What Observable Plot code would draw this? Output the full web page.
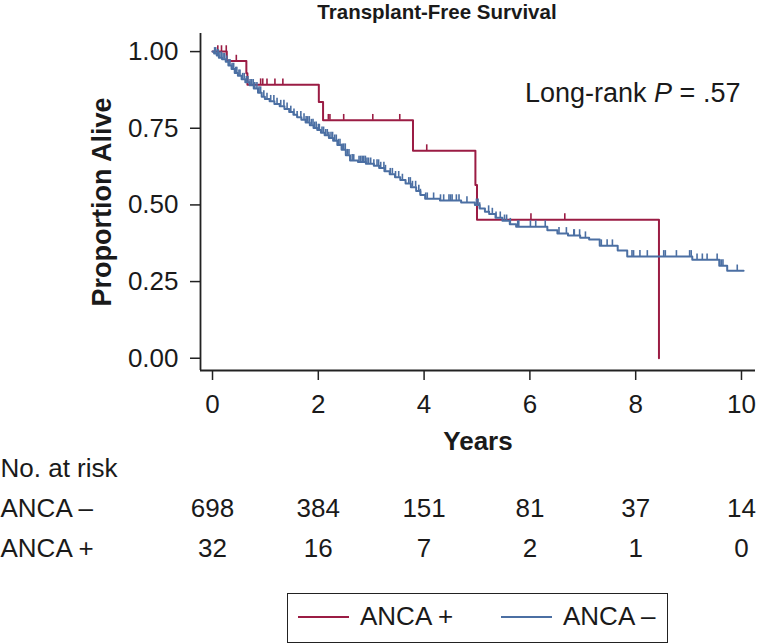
<!DOCTYPE html>
<html><head><meta charset="utf-8">
<script src="https://cdn.jsdelivr.net/npm/d3@7"></script>
<script src="https://cdn.jsdelivr.net/npm/@observablehq/plot@0.6"></script>
<style>
body{margin:0;background:#fff;font-family:"Liberation Sans",Arial,sans-serif;color:#1a1a1a}
#wrap{position:relative;width:759px;height:643px;overflow:hidden;background:#fff}
.abs{position:absolute;white-space:nowrap}
#wrap svg{position:absolute;left:0}
</style></head><body><div id="wrap"></div>
<script>
const title = "Transplant-Free Survival";
const yLabel = "Proportion Alive";
const xLabel = "Years";
const xTicks = [0, 2, 4, 6, 8, 10];
const yTicks = [0, 0.25, 0.5, 0.75, 1];
const groups = ["ANCA +", "ANCA –"];
const colors = ["#9b1c44", "#4b6fa3"];

// ANCA + : step times and survival after each step
const posTimes = [0, 0.27, 0.64, 0.66, 2.01, 2.09, 3.79, 4.97, 5.00, 8.44];
const posSurv  = [1, 0.969, 0.929, 0.892, 0.836, 0.776, 0.677, 0.565, 0.452, 0];
const posCensor = [0.10, 0.17, 0.26, 0.45, 0.91, 0.95, 1.03, 1.18, 1.33, 2.19, 2.22, 2.48, 3.03, 3.54, 4.05, 6.02, 6.66];

// ANCA – : step times and survival after each step
const negTimes = [0, 0.03, 0.08, 0.12, 0.18, 0.25, 0.30, 0.36, 0.42, 0.48, 0.55, 0.62, 0.70, 0.78, 0.86, 0.93, 0.99, 1.08, 1.17, 1.27, 1.36, 1.45, 1.53, 1.60, 1.68, 1.76, 1.84, 1.91, 1.98, 2.05, 2.12, 2.20, 2.28, 2.36, 2.44, 2.52, 2.60, 2.75, 2.90, 3.05, 3.15, 3.25, 3.35, 3.45, 3.55, 3.65, 3.75, 3.85, 3.93, 4.02, 4.30, 4.70, 4.96, 5.05, 5.15, 5.23, 5.35, 5.48, 5.62, 5.74, 6.33, 6.52, 6.72, 6.95, 7.12, 7.32, 7.66, 7.84, 9.07, 9.58, 9.73, 10.04];
const negSurv  = [1, 0.994, 0.987, 0.980, 0.975, 0.967, 0.955, 0.943, 0.930, 0.921, 0.910, 0.900, 0.890, 0.880, 0.866, 0.853, 0.845, 0.838, 0.829, 0.822, 0.813, 0.803, 0.794, 0.786, 0.778, 0.769, 0.760, 0.751, 0.744, 0.735, 0.727, 0.718, 0.709, 0.695, 0.680, 0.662, 0.645, 0.640, 0.634, 0.628, 0.620, 0.610, 0.600, 0.590, 0.581, 0.570, 0.558, 0.545, 0.532, 0.520, 0.514, 0.508, 0.500, 0.488, 0.478, 0.470, 0.458, 0.448, 0.437, 0.429, 0.417, 0.407, 0.400, 0.393, 0.387, 0.367, 0.351, 0.332, 0.321, 0.302, 0.285, 0.285];
const negCensor = [0.04, 0.06, 0.09, 0.11, 0.14, 0.17, 0.20, 0.23, 0.27, 0.31, 0.33, 0.37, 0.40, 0.44, 0.46, 0.50, 0.52, 0.57, 0.60, 0.64, 0.67, 0.71, 0.74, 0.77, 0.80, 0.84, 0.88, 0.91, 0.97, 1.03, 1.10, 1.16, 1.22, 1.29, 1.35, 1.41, 1.48, 1.54, 1.60, 1.67, 1.73, 1.77, 1.80, 1.83, 1.87, 1.90, 1.93, 1.96, 2.00, 2.02, 2.07, 2.10, 2.14, 2.17, 2.20, 2.24, 2.27, 2.31, 2.34, 2.38, 2.41, 2.45, 2.48, 2.51, 2.55, 2.58, 2.64, 2.67, 2.77, 2.80, 2.83, 2.86, 2.89, 2.92, 2.95, 2.99, 3.05, 3.11, 3.14, 3.18, 3.24, 3.27, 3.36, 3.40, 3.46, 3.52, 3.59, 3.71, 3.74, 3.78, 3.84, 3.90, 3.93, 4.03, 4.06, 4.18, 4.31, 4.37, 4.47, 4.50, 4.53, 4.61, 4.66, 4.81, 4.99, 5.02, 5.05, 5.22, 5.29, 5.36, 5.44, 5.52, 5.56, 5.63, 5.77, 5.79, 6.01, 6.11, 6.29, 6.55, 6.69, 6.83, 6.84, 6.94, 7.05, 7.35, 7.46, 7.56, 7.93, 7.96, 8.08, 8.22, 8.53, 8.56, 8.77, 9.02, 9.05, 9.16, 9.26, 9.35, 9.54, 9.59, 9.62, 9.65, 9.92];

const riskRows = ["No. at risk", "ANCA –", "ANCA +"];
const riskTimes = [0, 2, 4, 6, 8, 10];
const riskNeg = [698, 384, 151, 81, 37, 14];
const riskPos = [32, 16, 7, 2, 1, 0];

// ---- build tables ----
const curve = (times, surv) => times.map((t, i) => ({t, s: surv[i]}));
const survAt = (times, surv, t) => { let v = surv[0]; for (let i = 0; i < times.length; i++) if (times[i] <= t) v = surv[i]; return v; };
const posCurve = curve(posTimes, posSurv);
const negCurve = curve(negTimes, negSurv);
const posCens = posCensor.map(t => ({t, s: survAt(posTimes, posSurv, t)}));
const negCens = negCensor.map(t => ({t, s: survAt(negTimes, negSurv, t)}));
const riskData = riskTimes.flatMap((t, i) => [{t, row: riskRows[1], n: riskNeg[i]}, {t, row: riskRows[2], n: riskPos[i]}]);

const FONT = "'Liberation Sans', Arial, Helvetica, sans-serif";
const xDom = [-0.227, 10.265];
const yDom = [-0.040, 1.059];
const axisColor = "#222";
const tickH = 0.019;

const main = Plot.plot({
  width: 759, height: 460,
  marginLeft: 200, marginRight: 4, marginTop: 33, marginBottom: 90,
  style: {fontFamily: FONT, fontSize: "26px", color: "#1a1a1a", background: "transparent", overflow: "visible"},
  x: {domain: xDom},
  y: {domain: yDom},
  marks: [
    Plot.axisX(xTicks, {tickSize: 10, tickPadding: 14, label: null, stroke: axisColor, strokeWidth: 1.5, fontSize: 26}),
    Plot.axisY(yTicks, {tickSize: 10, tickPadding: 12, label: null, tickFormat: d3.format(".2f"), stroke: axisColor, strokeWidth: 1.5, fontSize: 26}),
    Plot.ruleX([xDom[0]], {stroke: axisColor, strokeWidth: 1.8}),
    Plot.ruleY([yDom[0]], {stroke: axisColor, strokeWidth: 1.8}),
    Plot.line(posCurve, {x: "t", y: "s", curve: "step-after", stroke: colors[0], strokeWidth: 2}),
    Plot.ruleX(posCens, {x: "t", y1: "s", y2: d => d.s + tickH, stroke: colors[0], strokeWidth: 1.6}),
    Plot.line(negCurve, {x: "t", y: "s", curve: "step-after", stroke: colors[1], strokeWidth: 2}),
    Plot.ruleX(negCens, {x: "t", y1: "s", y2: d => d.s + tickH, stroke: colors[1], strokeWidth: 1.6}),
    Plot.text([yLabel], {frameAnchor: "left", textAnchor: "middle", lineAnchor: "middle", rotate: -90, dx: -98, fontWeight: "bold", fontSize: 27, fill: "#1a1a1a"}),
    Plot.text([xLabel], {frameAnchor: "bottom", lineAnchor: "middle", dy: 71, fontWeight: "bold", fontSize: 26, fill: "#1a1a1a"})
  ]
});
main.style.top = "0px";

const risk = Plot.plot({
  width: 759, height: 130,
  marginLeft: 200, marginRight: 4, marginTop: 0, marginBottom: 0,
  style: {fontFamily: FONT, fontSize: "26px", color: "#1a1a1a", background: "transparent", overflow: "visible"},
  x: {domain: xDom, axis: null},
  y: {type: "point", domain: riskRows, range: [28, 108], padding: 0, axis: null},
  marks: [
    Plot.text(riskRows, {y: d => d, frameAnchor: "left", dx: -200, textAnchor: "start", fontSize: 26, fill: "#1a1a1a"}),
    Plot.text(riskData, {x: "t", y: "row", text: "n", fontSize: 26, fill: "#1a1a1a"})
  ]
});
risk.style.top = "440px";

const wrap = document.getElementById("wrap");
wrap.appendChild(main);
wrap.appendChild(risk);

const t = document.createElement("div");
t.className = "abs";
t.textContent = title;
Object.assign(t.style, {left: "0px", width: "874px", textAlign: "center", top: "0px", fontWeight: "bold", fontSize: "20.5px", lineHeight: "24px"});
wrap.appendChild(t);

const p = document.createElement("div");
p.className = "abs";
p.innerHTML = "Long-rank <i>P</i> = .57";
Object.assign(p.style, {left: "525px", top: "77px", fontSize: "27px", lineHeight: "32px"});
wrap.appendChild(p);

// legend
const lg = document.createElement("div");
lg.className = "abs";
Object.assign(lg.style, {left: "287px", top: "593px", width: "381px", height: "50px", border: "1.5px solid #222", boxSizing: "border-box"});
groups.forEach((g, i) => {
  const ln = document.createElement("div");
  ln.className = "abs";
  Object.assign(ln.style, {left: (i === 0 ? 10 : 213) + "px", top: "22px", width: "51px", height: "0px", borderTop: "2px solid " + colors[i]});
  lg.appendChild(ln);
  const tx = document.createElement("div");
  tx.className = "abs";
  tx.textContent = g;
  Object.assign(tx.style, {left: (i === 0 ? 72 : 275) + "px", top: "6px", fontSize: "26px", lineHeight: "32px"});
  lg.appendChild(tx);
});
wrap.appendChild(lg);
</script></body></html>
